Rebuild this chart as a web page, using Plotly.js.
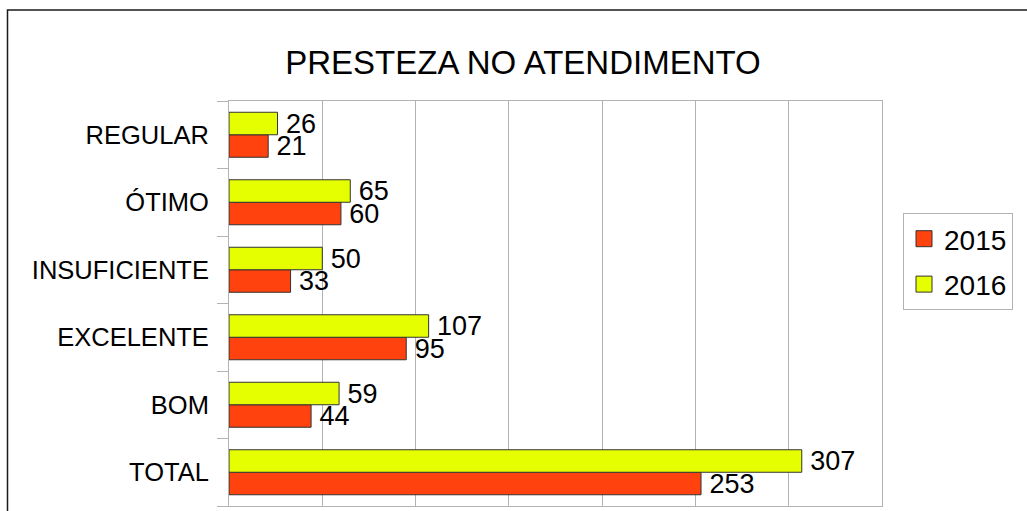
<!DOCTYPE html>
<html>
<head>
<meta charset="utf-8">
<script src="https://cdn.plot.ly/plotly-3.0.1.min.js"></script>
<style>
  html, body { margin: 0; padding: 0; background: #fff; }
  #chart { width: 1027px; height: 511px; }
</style>
</head>
<body>
<div id="chart"></div>
<script>
// categories from bottom to top, as in the picture
const categories = ['TOTAL', 'BOM', 'EXCELENTE', 'INSUFICIENTE', 'ÓTIMO', 'REGULAR'];
const values2015 = [253, 44, 95, 33, 60, 21];
const values2016 = [307, 59, 107, 50, 65, 26];
const seriesNames = ['2015', '2016'];

const FONT = '"Liberation Sans", Arial, sans-serif';
const RED = '#ff420e';
const YELLOW = '#e6ff00';
const GRID = '#b3b3b3';

function barTrace(values, name, color){
	return {
		type: 'bar',
		orientation: 'h',
		x: values,
		y: categories,
		name: name,
		showlegend: false,
		marker: {
			color: color,
			line: { color: '#333333', width: 1 }
		},
		text: values.map(v => '\u2009' + v),
		textposition: 'outside',
		constraintext: 'none',
		textfont: { family: FONT, size: 27, color: '#000' },
		cliponaxis: false,
		hoverinfo: 'x+name'
	};
}

// legend entries only (bigger square swatches than the bar icon)
function legendTrace(name, color){
	return {
		type: 'scatter',
		mode: 'markers',
		x: [null],
		y: [null],
		name: name,
		legendgroup: name,
		marker: { symbol: 'square', size: 16, color: color, line: { color: '#333333', width: 1 } }
	};
}

const traces = [
	barTrace(values2015, seriesNames[0], RED),
	barTrace(values2016, seriesNames[1], YELLOW),
	legendTrace(seriesNames[0], RED),
	legendTrace(seriesNames[1], YELLOW)
];

const L = 229, R = 145, T = 101, B = 5;
const W = 1027 - L - R, H = 511 - T - B;

const layout = {
	width: 1027,
	height: 511,
	paper_bgcolor: '#fff',
	plot_bgcolor: '#fff',
	font: { family: FONT, color: '#000' },
	title: {
		text: 'PRESTEZA NO ATENDIMENTO',
		font: { family: FONT, size: 33, color: '#000' },
		x: 523 / 1027,
		xanchor: 'center',
		y: 1 - 62 / 511,
		yanchor: 'middle'
	},
	margin: { l: L, r: R, t: T, b: B },
	barmode: 'group',
	bargap: 1 / 3,
	bargroupgap: 0,
	showlegend: true,
	legend: {
		x: (903 - L) / W,
		xanchor: 'left',
		y: (T + H - 213) / H,
		yanchor: 'top',
		bordercolor: GRID,
		borderwidth: 1,
		font: { family: FONT, size: 28, color: '#000' },
		traceorder: 'grouped',
		tracegroupgap: 6
	},
	xaxis: {
		range: [0, 350],
		dtick: 50,
		tick0: 0,
		showgrid: true,
		gridcolor: GRID,
		gridwidth: 1,
		zeroline: false,
		showline: true,
		linecolor: GRID,
		mirror: true,
		showticklabels: false,
		ticks: '',
		fixedrange: true
	},
	yaxis: {
		type: 'category',
		categoryorder: 'array',
		categoryarray: categories,
		showgrid: false,
		zeroline: false,
		showline: true,
		linecolor: GRID,
		mirror: true,
		ticks: 'outside',
		tickson: 'boundaries',
		ticklen: 11,
		tickcolor: GRID,
		ticklabelstandoff: 14,
		tickfont: { family: FONT, size: 25.5, color: '#000' },
		fixedrange: true
	},
	shapes: [
		{
			// outer frame of the chart
			type: 'rect',
			xref: 'paper',
			yref: 'paper',
			x0: (7.5 - L) / W,
			x1: (1040 - L) / W,
			y0: (T + H - 520) / H,
			y1: (T + H - 10) / H,
			line: { color: '#1a1a1a', width: 1.5 },
			layer: 'below'
		}
	]
};

Plotly.newPlot('chart', traces, layout, { staticPlot: true });
</script>
</body>
</html>
